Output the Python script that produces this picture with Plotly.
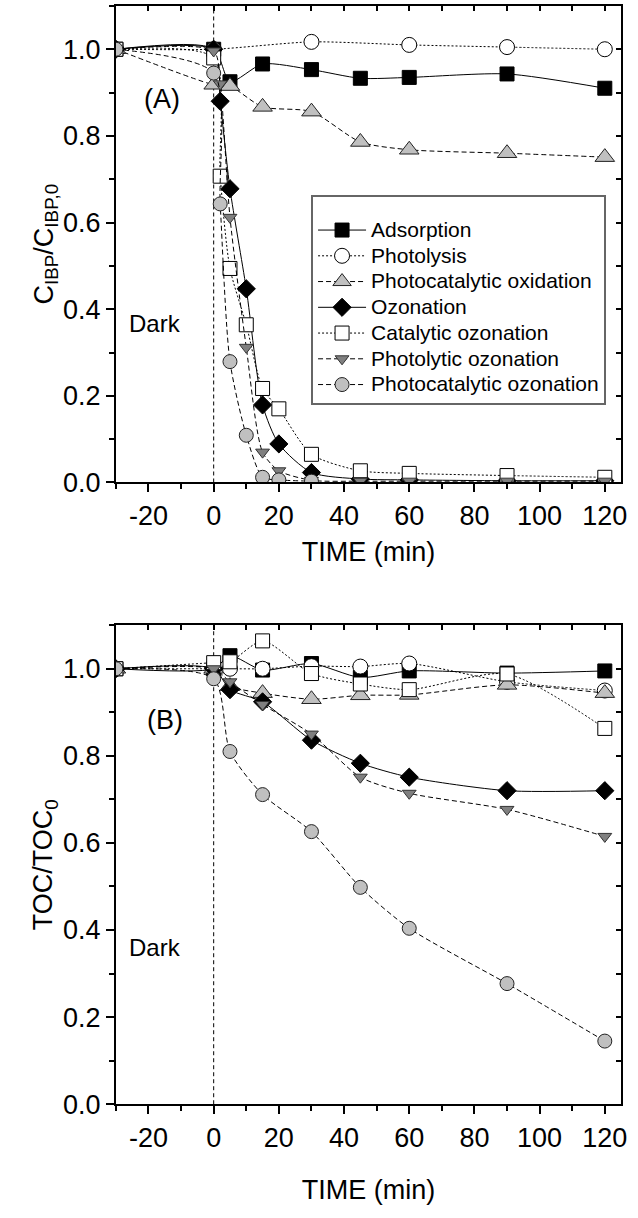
import plotly.graph_objects as go

# ---------------- Data: panel (A) C_IBP/C_IBP,0 ----------------
names = ["Adsorption", "Photolysis", "Photocatalytic oxidation", "Ozonation",
         "Catalytic ozonation", "Photolytic ozonation", "Photocatalytic ozonation"]

t_a_ads = [-30, 0, 5, 15, 30, 45, 60, 90, 120]
a_ads = [1.0, 1.0, 0.925, 0.966, 0.953, 0.933, 0.935, 0.943, 0.910]
t_a_phl = [-30, 0, 30, 60, 90, 120]
a_phl = [1.0, 1.0, 1.017, 1.01, 1.005, 1.0]
t_a_pco = [-30, 0, 5, 15, 30, 45, 60, 90, 120]
a_pco = [1.0, 0.918, 0.915, 0.867, 0.856, 0.786, 0.768, 0.760, 0.751]
t_a_full = [-30, 0, 2, 5, 10, 15, 20, 30, 45, 60, 90, 120]
a_ozo = [1.0, 1.0, 0.88, 0.678, 0.447, 0.179, 0.089, 0.023, 0.008, 0.006, 0.004, 0.004]
a_cat = [1.0, 0.98, 0.707, 0.494, 0.364, 0.217, 0.170, 0.065, 0.027, 0.021, 0.016, 0.012]
a_plo = [1.0, 0.996, 0.92, 0.612, 0.312, 0.070, 0.027, 0.005, 0.003, 0.003, 0.003, 0.003]
t_a_pcz = [-30, 0, 2, 5, 10, 15, 20, 30]
a_pcz = [1.0, 0.945, 0.643, 0.279, 0.109, 0.012, 0.006, 0.003]

# ---------------- Data: panel (B) TOC/TOC0 ----------------
t_b = [-30, 0, 5, 15, 30, 45, 60, 90, 120]
b_ads = [1.0, 1.0, 1.03, 0.997, 1.012, 0.98, 0.995, 0.99, 0.995]
b_phl = [1.0, 1.0, 1.0, 1.0, 1.006, 1.005, 1.012, 0.97, 0.95]
b_pco = [1.0, 1.0, 0.96, 0.944, 0.93, 0.939, 0.94, 0.963, 0.944]
b_ozo = [1.0, 1.0, 0.952, 0.924, 0.836, 0.783, 0.751, 0.72, 0.72]
b_cat = [1.0, 1.014, 1.016, 1.064, 0.989, 0.965, 0.952, 0.988, 0.863]
b_plo = [1.0, 1.0, 0.97, 0.918, 0.85, 0.751, 0.714, 0.677, 0.615]
b_pcz = [1.0, 0.977, 0.81, 0.711, 0.626, 0.498, 0.404, 0.277, 0.145]

# ---------------- Tick labels ----------------
x_tickvals = [-20, 0, 20, 40, 60, 80, 100, 120]
x_ticktext = ["-20", "0", "20", "40", "60", "80", "100", "120"]
y_tickvals = [0.0, 0.2, 0.4, 0.6, 0.8, 1.0]
y_ticktext = ["0.0", "0.2", "0.4", "0.6", "0.8", "1.0"]

# ---------------- Styles ----------------
styles = [
    dict(dash="solid", symbol="square", color="black", lc="black", size=14),
    dict(dash="2px,2px", symbol="circle", color="white", lc="black", size=15),
    dict(dash="5px,3px", symbol="triangle-up", color="#c0c0c0", lc="#222222", size=17),
    dict(dash="solid", symbol="diamond", color="black", lc="black", size=14),
    dict(dash="2px,2px", symbol="square", color="white", lc="black", size=14),
    dict(dash="5px,3px", symbol="triangle-down", color="#808080", lc="#333333", size=12),
    dict(dash="5px,3px", symbol="circle", color="#c0c0c0", lc="#222222", size=14),
]

series_a = [(t_a_ads, a_ads), (t_a_phl, a_phl), (t_a_pco, a_pco), (t_a_full, a_ozo),
            (t_a_full, a_cat), (t_a_full, a_plo), (t_a_pcz, a_pcz)]
series_b = [(t_b, b_ads), (t_b, b_phl), (t_b, b_pco), (t_b, b_ozo),
            (t_b, b_cat), (t_b, b_plo), (t_b, b_pcz)]

FONT = "Liberation Sans, Arial, sans-serif"
fig = go.Figure()

def add_series(series, xa, ya, legend):
    for name, (xs, ys), st in zip(names, series, styles):
        fig.add_trace(go.Scatter(
            x=xs, y=ys, mode="lines+markers",
            name='<span style="font-size:21px">' + name + '</span>',
            xaxis=xa, yaxis=ya, showlegend=legend,
            line=dict(color="black", width=1, dash=st["dash"], shape="spline", smoothing=0.7),
            marker=dict(symbol=st["symbol"], size=st["size"], color=st["color"],
                        line=dict(color=st["lc"], width=1)),
            cliponaxis=True,
        ))

add_series(series_a, "x", "y", True)
add_series(series_b, "x2", "y2", False)

# dummy traces so the mirrored (inside-tick) axes are drawn
fig.add_trace(go.Scatter(x=[None], y=[None], xaxis="x3", yaxis="y3", showlegend=False, hoverinfo="skip"))
fig.add_trace(go.Scatter(x=[None], y=[None], xaxis="x4", yaxis="y4", showlegend=False, hoverinfo="skip"))

xdom = [117 / 638, 627 / 638]
ydomA = [1 - 488.5 / 1218, 1 - 6 / 1218]
ydomB = [1 - 1118 / 1218, 1 - 633 / 1218]
XR = [-30, 125]
YR = [0, 1.1]

tickfont = dict(family=FONT, size=27, color="black")
titlefont = dict(family=FONT, size=27, color="black")

def xaxis_main(anchor, standoff):
    return dict(domain=xdom, range=XR, anchor=anchor, showgrid=False, zeroline=False,
                showline=True, linewidth=2, linecolor="black", mirror=True,
                ticks="outside", ticklen=8, tickwidth=1.5, tickcolor="black",
                tickmode="array", tickvals=x_tickvals, ticktext=x_ticktext, tickfont=tickfont,
                minor=dict(ticks="outside", ticklen=5, tickwidth=1.5, dtick=10, tick0=0, tickcolor="black"),
                title=dict(text="TIME (min)", font=titlefont, standoff=standoff))

def yaxis_main(anchor, dom, title):
    return dict(domain=dom, range=YR, anchor=anchor, showgrid=False, zeroline=False,
                showline=True, linewidth=2, linecolor="black", mirror=True,
                ticks="outside", ticklen=8, tickwidth=1.5, tickcolor="black",
                tickmode="array", tickvals=y_tickvals, ticktext=y_ticktext, tickfont=tickfont,
                minor=dict(ticks="outside", ticklen=5, tickwidth=1.5, dtick=0.1, tick0=0, tickcolor="black"),
                title=dict(text=title, font=titlefont, standoff=2))

def xaxis_top(over, anchor):
    return dict(overlaying=over, side="top", anchor=anchor, range=XR, showgrid=False,
                zeroline=False, showline=False, showticklabels=False,
                ticks="inside", ticklen=5, tickwidth=1.5, tickcolor="black", tick0=0, dtick=20,
                minor=dict(ticks="inside", ticklen=5, tickwidth=1.5, dtick=10, tick0=0, tickcolor="black"))

def yaxis_right(over, anchor):
    return dict(overlaying=over, side="right", anchor=anchor, range=YR, showgrid=False,
                zeroline=False, showline=False, showticklabels=False,
                ticks="inside", ticklen=5, tickwidth=1.5, tickcolor="black", tick0=0, dtick=0.2,
                minor=dict(ticks="inside", ticklen=5, tickwidth=1.5, dtick=0.1, tick0=0, tickcolor="black"))

fig.update_layout(
    width=638, height=1218, autosize=False,
    margin=dict(l=0, r=0, t=0, b=0),
    paper_bgcolor="white", plot_bgcolor="white",
    font=dict(family=FONT, color="black"),
    xaxis=xaxis_main("y", 12),
    yaxis=yaxis_main("x", ydomA, "C<sub>IBP</sub>/C<sub>IBP,0</sub>"),
    xaxis2=xaxis_main("y2", 28),
    yaxis2=yaxis_main("x2", ydomB, "TOC/TOC<sub>0</sub>"),
    xaxis3=xaxis_top("x", "y"),
    yaxis3=yaxis_right("y", "x"),
    xaxis4=xaxis_top("x2", "y2"),
    yaxis4=yaxis_right("y2", "x2"),
    legend=dict(x=314 / 638, y=1 - 197 / 1218, xanchor="left", yanchor="top",
                bgcolor="white", bordercolor="#666666", borderwidth=2,
                font=dict(family=FONT, size=17.5, color="black"),
                title=dict(text=" ", font=dict(family=FONT, size=12)),
                itemwidth=48, tracegroupgap=0),
    showlegend=True,
)

# vertical dashed line at t = 0 in both panels
for xr, yr in (("x", "y"), ("x2", "y2")):
    fig.add_shape(type="line", xref=xr, yref=yr + " domain", x0=0, x1=0, y0=0, y1=1,
                  line=dict(color="black", width=1, dash="4px,3px"), layer="below")

ann_font = dict(family=FONT, size=27, color="black")
fig.add_annotation(x=-16, y=0.886, xref="x", yref="y", text="(A)", showarrow=False, font=ann_font)
fig.add_annotation(x=-15, y=0.882, xref="x2", yref="y2", text="(B)", showarrow=False, font=ann_font)
fig.add_annotation(x=-18, y=0.368, xref="x", yref="y", text="Dark", showarrow=False,
                   font=dict(family=FONT, size=24, color="black"))
fig.add_annotation(x=-18, y=0.359, xref="x2", yref="y2", text="Dark", showarrow=False,
                   font=dict(family=FONT, size=24, color="black"))

fig.write_html("out.html")
